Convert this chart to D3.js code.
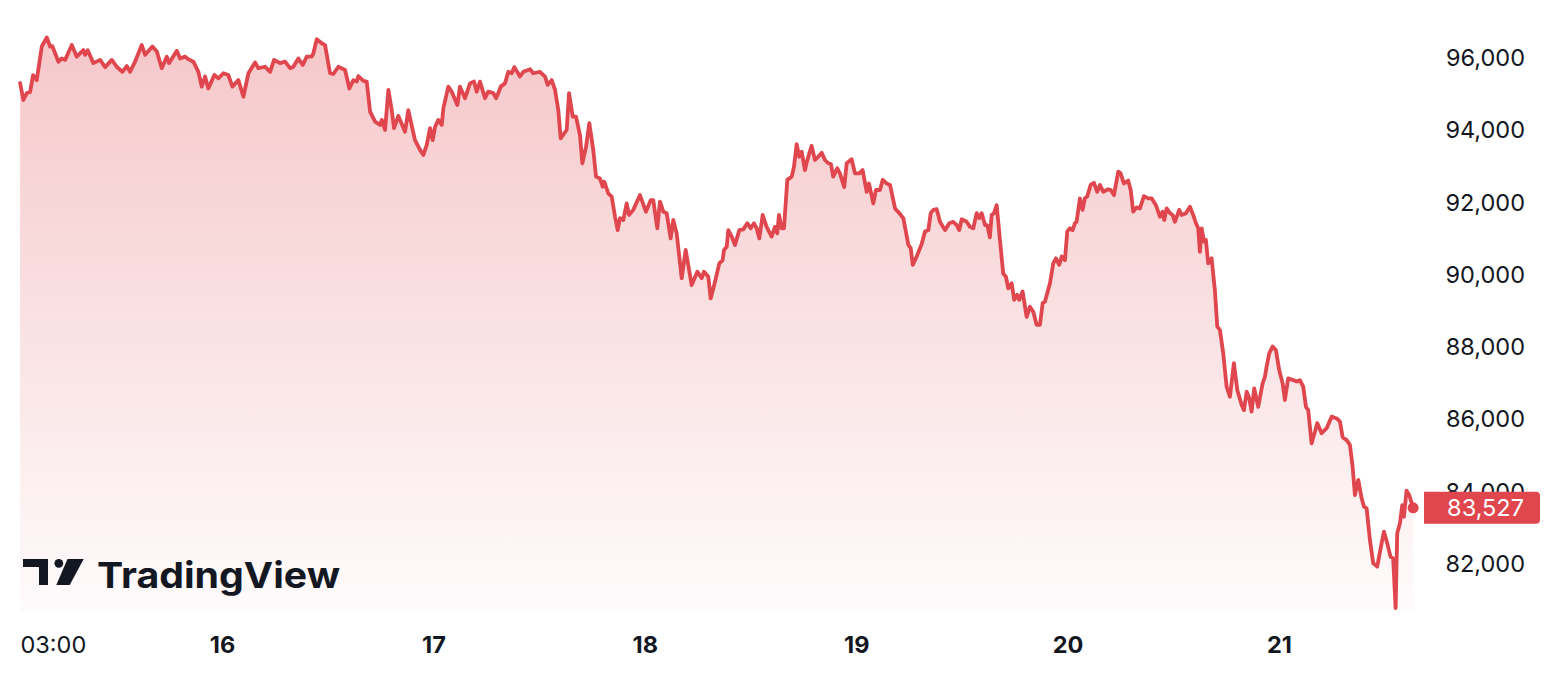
<!DOCTYPE html>
<html>
<head>
<meta charset="utf-8">
<script src="https://cdn.jsdelivr.net/npm/d3@7"></script>
<style>
html,body{margin:0;padding:0;background:#fff;}
svg{display:block;}
text{font-family:"Inter","Roboto","DejaVu Sans",sans-serif;}
</style>
</head>
<body>
<svg id="chart" width="1562" height="694"></svg>
<script>
// ---- Data ----
// hours elapsed since 2025-02-15 00:00 UTC
const hours = [1.08,1.45,1.84,2.21,2.55,2.97,3.54,4.11,4.48,4.74,5.43,5.81,6.19,6.95,7.51,8.26,8.46,8.76,9.40,10.16,10.73,11.49,12.05,12.69,13.19,13.56,14.13,14.89,15.27,16.10,16.60,17.16,17.73,17.99,18.87,19.24,19.81,20.18,20.75,21.32,21.70,22.08,22.45,23.13,23.59,24.16,24.72,25.18,25.86,26.43,27.00,27.75,28.13,28.89,29.46,29.91,30.59,31.16,31.73,32.10,32.67,33.17,33.62,34.19,34.37,34.76,35.32,35.70,36.27,36.64,37.21,37.97,38.46,38.91,39.30,39.48,40.05,40.43,40.81,41.38,41.95,42.14,42.51,42.89,43.27,43.53,44.02,44.78,45.15,45.91,46.48,46.86,47.24,47.62,47.92,48.19,48.56,48.95,49.13,49.69,50.08,50.72,51.02,51.59,52.16,52.61,52.92,53.29,53.86,54.23,54.80,55.11,55.37,55.64,56.13,56.50,56.89,57.19,57.83,58.21,58.97,59.34,60.10,60.67,60.98,61.43,61.81,62.18,62.45,63.13,63.40,63.82,64.19,64.64,64.91,65.33,65.70,66.15,66.46,66.91,67.22,67.40,67.85,68.24,68.62,68.92,69.18,69.56,69.94,70.20,70.69,71.45,72.13,72.67,72.96,73.42,73.72,74.10,74.48,74.94,75.23,75.62,76.19,76.64,77.32,77.96,78.46,78.72,79.21,79.48,79.97,80.46,80.84,80.99,81.30,81.48,81.87,82.24,82.73,83.18,83.64,84.02,84.40,84.70,85.00,85.38,85.83,86.40,86.78,87.04,87.23,87.54,87.80,88.18,88.68,88.94,89.24,89.54,89.81,90.18,90.45,90.94,91.32,91.69,92.08,92.45,92.83,93.13,93.39,93.85,94.15,94.64,94.92,95.48,95.86,96.35,96.73,97.19,97.45,97.94,98.24,98.70,99.01,99.46,99.84,100.41,100.89,101.35,101.92,102.19,102.42,102.87,103.44,103.81,104.19,104.46,104.76,105.14,105.51,106.08,106.57,107.02,107.41,107.70,107.98,108.54,108.92,109.29,109.68,109.97,110.24,110.62,110.88,111.18,111.38,111.64,111.95,112.32,112.69,113.00,113.26,113.65,113.94,114.28,114.51,114.89,115.35,115.72,116.10,116.48,116.86,117.17,117.43,117.74,118.00,118.37,118.68,119.05,119.33,119.70,119.96,120.27,120.57,120.83,121.02,121.40,121.70,121.96,122.23,122.61,122.99,123.36,123.67,124.05,124.61,124.89,125.26,125.75,126.02,126.39,126.88,127.16,127.45,127.84,128.21,128.67,129.15,129.54,130.03,130.48,130.79,130.97,131.24,131.62,131.92,132.18,132.67,132.94,133.43,133.89,134.26,134.57,134.83,135.02,135.22,135.48,135.70,135.96,136.35,136.72,136.99,137.29,137.67,138.05,138.43,138.88,139.26,139.76,140.02,140.33,140.62,140.89,141.19,141.64,142.14,142.40,142.59,142.89,143.27,143.65,144.02,144.41,144.67,145.04,145.61,146.00,146.37,146.75,147.06,147.32,147.70,148.08,148.34,148.84,149.41,149.98,150.55,150.92,151.23,151.68,152.05,152.36,152.62,153.00,153.38,153.64,153.95,154.32,154.70,155.15,155.46,155.91,156.28,156.67,156.96,157.24,157.42,157.73,157.99,158.18,158.48,158.78,159.23];
const prices = [95280,94810,95000,95030,95500,95360,96290,96540,96290,96300,95870,95960,95920,96330,96010,96190,96060,96190,95830,95920,95720,95920,95730,95590,95750,95590,95870,96330,96060,96290,96150,95690,96010,95830,96170,95960,96010,95940,95870,95590,95180,95460,95130,95500,95410,95550,95500,95180,95360,94900,95550,95850,95690,95730,95590,95920,95830,95870,95690,95730,95960,95780,96010,96010,96100,96490,96380,96330,95550,95530,95730,95640,95130,95360,95320,95470,95340,95320,94490,94210,94120,94260,93980,95090,94530,94030,94370,93930,94530,93700,93430,93290,93560,94030,93700,94070,94260,94120,94580,95180,95040,94670,95180,94860,95270,95320,95040,95320,94860,95040,95000,94860,95000,95180,95270,95590,95550,95720,95460,95590,95660,95550,95590,95460,95230,95360,95090,94530,93750,93980,95000,94350,94350,93840,93060,93520,94170,93430,92690,92640,92410,92550,92230,92140,91580,91210,91540,91490,91950,91630,91770,92180,91720,92040,92040,91260,92000,91720,91680,90980,91490,91120,89880,90660,89690,90060,89880,90060,89920,89320,89780,90290,90380,90660,90750,91210,91030,90800,91210,91230,91400,91260,91400,91260,90980,91630,91300,91030,91300,91120,91630,91260,91260,92600,92690,92970,93590,93240,93380,92870,93150,93540,93150,93240,93350,93150,93060,93040,92690,92920,92780,92400,93060,93170,92780,92780,92870,92270,92500,91950,92320,92320,92600,92500,92460,91810,91680,91540,90800,90710,90250,90480,90830,91170,91210,91680,91770,91790,91440,91210,91400,91440,91350,91210,91510,91440,91300,91260,91680,91540,91680,91350,91350,91010,91630,91680,91900,90940,90010,89920,89600,89740,89280,89420,89280,89510,88810,89090,88950,88590,88590,89190,89230,89510,89740,90290,90430,90250,90480,90380,91170,91260,91210,91400,91440,92090,91770,92090,92140,92460,92520,92270,92460,92270,92340,92320,92180,92830,92780,92500,92580,92320,91720,91840,91810,92150,92090,92090,91900,91580,91720,91490,91810,91680,91630,91440,91770,91630,91680,91860,91630,91400,91260,90610,91260,90890,90940,90290,90430,89550,88540,88450,87800,86880,86600,87530,86790,86370,86230,86740,86560,86190,86830,86320,86970,87150,87430,87800,87990,87890,87340,86970,86510,87110,87060,87020,87060,86880,86320,86230,85310,85630,85870,85590,85730,86050,86000,85910,85480,85400,85270,84660,83880,84300,83790,83560,83510,82640,81990,81900,82310,82870,82550,82170,82130,80750,82820,83100,83600,83280,84000,83880,83527];
const priceTicks = [82000,84000,86000,88000,90000,92000,94000,96000];
const timeTickHours = [3,24,48,72,96,120,144];   // 15 03:00, 16 … 21
const timeTickLabels = ["03:00","16","17","18","19","20","21"];
const lastPrice = 83527;

// ---- Setup ----
const W = 1562, H = 694;
const baseMs = Date.UTC(2025,1,15,0,0);
const toDate = h => new Date(baseMs + h*3600e3);
const data = hours.map((h,i)=>({t:toDate(h), p:prices[i]}));

const plotLeft = 20, plotBottom = 612;
const lineColor = "#e0464d";
const textColor = "#131722";

const x = d3.scaleUtc().domain([toDate(24), toDate(144)]).range([222, 1279]);
const y = d3.scaleLinear().domain([82000, 96000]).range([563, 57]);

const svg = d3.select("#chart");

// gradient
const defs = svg.append("defs");
const grad = defs.append("linearGradient").attr("id","fillGrad")
  .attr("gradientUnits","userSpaceOnUse").attr("x1",0).attr("x2",0)
  .attr("y1", y(d3.max(prices))).attr("y2", plotBottom);
grad.append("stop").attr("offset","0%").attr("stop-color",lineColor).attr("stop-opacity",0.3);
grad.append("stop").attr("offset","100%").attr("stop-color",lineColor).attr("stop-opacity",0.02);

const area = d3.area().x(d=>x(d.t)).y0(plotBottom).y1(d=>y(d.p));
const line = d3.line().x(d=>x(d.t)).y(d=>y(d.p));

svg.append("path").datum(data).attr("d",area).attr("fill","url(#fillGrad)");
svg.append("path").datum(data).attr("d",line).attr("fill","none")
  .attr("stroke",lineColor).attr("stroke-width",3.8).attr("stroke-linejoin","round").attr("stroke-linecap","round");

// end dot
const last = data[data.length-1];
svg.append("circle").attr("cx",x(last.t)).attr("cy",y(last.p)).attr("r",5.5).attr("fill",lineColor);

// ---- Price axis ----
const yAxis = d3.axisRight(y).tickValues(priceTicks).tickSize(0).tickPadding(0)
  .tickFormat(d3.format(","));
const yg = svg.append("g").attr("transform",`translate(1525,0)`).call(yAxis);
yg.select(".domain").remove();
yg.selectAll("text").attr("text-anchor","end").attr("x",0).attr("dy","0.36em")
  .attr("fill",textColor).style("font-size","23.5px").style("font-family","Inter, Roboto, sans-serif");

// last price label (covers the nearby tick label, as in the source)
const ly = y(lastPrice);
const bx = 1424, bw = 116, bh = 32, r = 4;
svg.append("path")
  .attr("d",`M${bx},${ly-bh/2} H${bx+bw-r} Q${bx+bw},${ly-bh/2} ${bx+bw},${ly-bh/2+r} V${ly+bh/2-r} Q${bx+bw},${ly+bh/2} ${bx+bw-r},${ly+bh/2} H${bx} Z`)
  .attr("fill",lineColor);
svg.append("text").attr("x",1524).attr("y",ly).attr("dy","0.36em").attr("text-anchor","end")
  .attr("fill","#fff").style("font-size","23.5px").text(d3.format(",")(lastPrice));

// ---- Time axis ----
const xAxis = d3.axisBottom(x).tickValues(timeTickHours.map(toDate)).tickSize(0).tickPadding(0)
  .tickFormat((d,i)=>timeTickLabels[i]);
const xg = svg.append("g").attr("transform",`translate(0,645)`).call(xAxis);
xg.select(".domain").remove();
xg.selectAll("text").attr("y",0).attr("dy","0.36em").attr("fill",textColor)
  .style("font-size","23.5px").style("font-family","Inter, Roboto, sans-serif")
  .style("font-weight",(d,i)=> i===0 ? 400 : 700);
// first label is pinned to the left edge of the pane
xg.selectAll(".tick").filter((d,i)=>i===0).select("text")
  .attr("text-anchor","start").attr("x", plotLeft - x(toDate(timeTickHours[0])));

// ---- Logo ----
const logo = svg.append("g").attr("fill",textColor);
logo.append("path").attr("d","M23,559 H48 V585 H39 V567 H23 Z");
logo.append("circle").attr("cx",58.8).attr("cy",563.3).attr("r",4.4);
logo.append("path").attr("d","M67.5,559 H83.7 L69.7,585 H56.3 Z");
logo.append("text").attr("x",97).attr("y",588).attr("textLength",243).attr("lengthAdjust","spacingAndGlyphs")
  .style("font-size","36px").style("font-weight",700).text("TradingView");
</script>
</body>
</html>
